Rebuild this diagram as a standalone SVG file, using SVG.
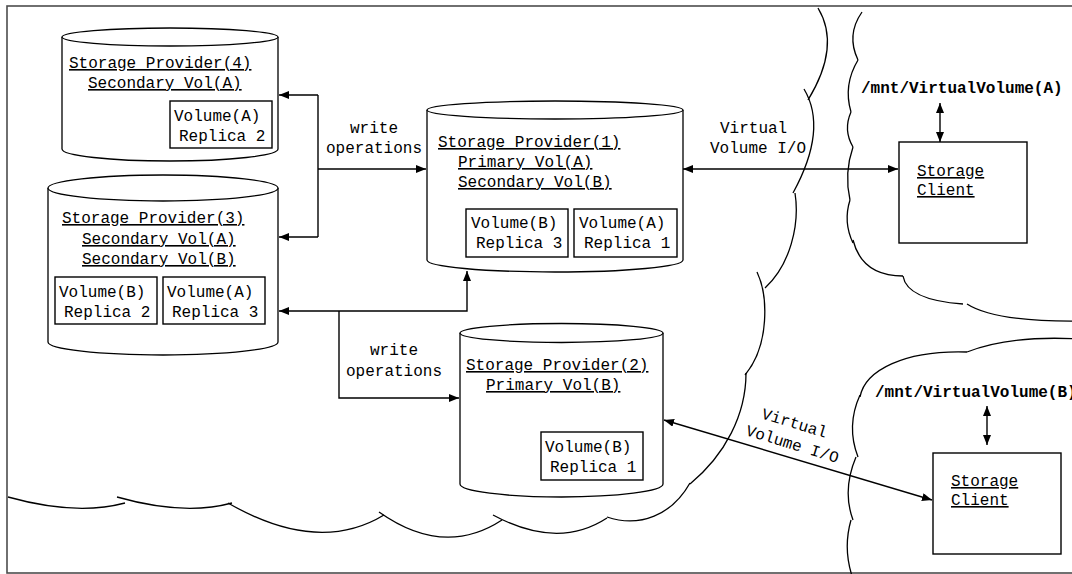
<svg xmlns="http://www.w3.org/2000/svg" width="1072" height="574" viewBox="0 0 1072 574">
<style>
text{font-family:"Liberation Mono","Courier New",monospace;font-size:16px;fill:#000}
.u{text-decoration:underline}
.b{font-weight:bold}
.m{text-anchor:middle}
.cyl{fill:#fff;stroke:#000;stroke-width:1.3}
.box{fill:#fff;stroke:#000;stroke-width:1.4}
.cl{fill:none;stroke:#000;stroke-width:1.3}
.c{fill:none;stroke:#000;stroke-width:1.4;marker-end:url(#ah)}
.d{fill:none;stroke:#000;stroke-width:1.4;marker-start:url(#ah);marker-end:url(#ah)}
.l{fill:none;stroke:#000;stroke-width:1.4}
</style>
<defs>
<marker id="ah" markerUnits="userSpaceOnUse" markerWidth="11" markerHeight="9" refX="10" refY="4" orient="auto-start-reverse" viewBox="0 0 11 9">
<path d="M0,0 L10,4 L0,8 z" fill="#000"/>
</marker>
</defs>
<rect x="7" y="6" width="1090" height="567" fill="#fff" stroke="#4d4d4d" stroke-width="1.6"/>

<g id="cloud-providers">
<path class="cl" d="M818,8 Q841,46 808,100"/>
<path class="cl" d="M804,89 Q828,129 793,193"/>
<path class="cl" d="M795,193 C800,225 790,265 765,288"/>
<path class="cl" d="M757,272 C768,295 770,345 745,375"/>
<path class="cl" d="M746,373 C746,415 725,455 690,484"/>
<path class="cl" d="M690,483 C672,515 640,528 607,517"/>
<path class="cl" d="M493,515 Q558,550 607,518"/>
<path class="cl" d="M379,512 Q444,558 502,520"/>
<path class="cl" d="M228,503 Q318,555 384,515"/>
<path class="cl" d="M117,497 Q184,516 232,503"/>
<path class="cl" d="M8,497 Q76,516 125,503"/>
</g>
<g id="cloud-client-a">
<path class="cl" d="M862,12 Q846,35 858,60"/>
<path class="cl" d="M858,60 Q843,85 851,112"/>
<path class="cl" d="M851,112 Q843,130 853,147"/>
<path class="cl" d="M853,147 Q844,173 850,200"/>
<path class="cl" d="M850,200 Q843,222 853,243"/>
<path class="cl" d="M853,240 Q862,276 903,276"/>
<path class="cl" d="M903,276 Q907,300 963,304"/>
<path class="cl" d="M967,304 Q995,322 1080,321"/>
</g>
<g id="cloud-client-b">
<path class="cl" d="M860,397 C865,370 905,350 967,352"/>
<path class="cl" d="M967,352 Q1010,335 1080,339"/>
<path class="cl" d="M860,395 Q846,426 858,457"/>
<path class="cl" d="M856,457 Q842,490 853,520"/>
<path class="cl" d="M851,520 Q843,548 852,576"/>
</g>

<g id="sp4">
<path class="cyl" d="M62,37 V149 A108,12 0 0 0 278,149 V37"/>
<ellipse class="cyl" cx="170" cy="37" rx="108" ry="9"/>
<text class="u" x="69" y="68">Storage Provider(4)</text>
<text class="u" x="88" y="88">Secondary Vol(A)</text>
<rect class="box" x="170" y="101" width="102" height="47"/>
<text x="174" y="121">Volume(A)</text>
<text x="179" y="141">Replica 2</text>
</g>

<g id="sp3">
<path class="cyl" d="M48,188 V342 A115,13 0 0 0 278,342 V188"/>
<ellipse class="cyl" cx="163" cy="188" rx="115" ry="13"/>
<text class="u" x="62" y="223">Storage Provider(3)</text>
<text class="u" x="82" y="244">Secondary Vol(A)</text>
<text class="u" x="82" y="264">Secondary Vol(B)</text>
<rect class="box" x="55" y="277" width="102" height="47"/>
<text x="59" y="297">Volume(B)</text>
<text x="64" y="317">Replica 2</text>
<rect class="box" x="163" y="277" width="102" height="47"/>
<text x="167" y="297">Volume(A)</text>
<text x="172" y="317">Replica 3</text>
</g>

<g id="sp1">
<path class="cyl" d="M427,110 V260 A128,12 0 0 0 683,260 V110"/>
<ellipse class="cyl" cx="555" cy="110" rx="128" ry="9"/>
<text class="u" x="438" y="147">Storage Provider(1)</text>
<text class="u" x="458" y="167">Primary Vol(A)</text>
<text class="u" x="458" y="187">Secondary Vol(B)</text>
<rect class="box" x="466" y="209" width="102" height="48"/>
<text x="471" y="228">Volume(B)</text>
<text x="476" y="248">Replica 3</text>
<rect class="box" x="574" y="209" width="103" height="48"/>
<text x="579" y="228">Volume(A)</text>
<text x="584" y="248">Replica 1</text>
</g>

<g id="sp2">
<path class="cyl" d="M460,333 V484 A101.5,13 0 0 0 663,484 V333"/>
<ellipse class="cyl" cx="561.5" cy="333" rx="101.5" ry="9.5"/>
<text class="u" x="466" y="370">Storage Provider(2)</text>
<text class="u" x="486" y="390">Primary Vol(B)</text>
<rect class="box" x="541" y="432" width="102" height="48"/>
<text x="545" y="452">Volume(B)</text>
<text x="550" y="472">Replica 1</text>
</g>

<g id="client-a">
<rect class="box" x="899" y="142" width="128" height="101"/>
<text class="u" x="917" y="176">Storage</text>
<text class="u" x="917" y="195">Client</text>
<text class="b" x="861" y="93">/mnt/VirtualVolume(A)</text>
</g>

<g id="client-b">
<rect class="box" x="933" y="453" width="128" height="101"/>
<text class="u" x="951" y="486">Storage</text>
<text class="u" x="951" y="505">Client</text>
<text class="b" x="875" y="397">/mnt/VirtualVolume(B)</text>
</g>

<g id="connectors">
<path class="l" d="M318,95 V237"/>
<path class="c" d="M318,95 H279"/>
<path class="c" d="M318,237 H279"/>
<path class="c" d="M318,169 H426"/>
<path class="d" d="M279,311 H467 V271"/>
<path class="c" d="M339,311 V398 H459"/>
<path class="d" d="M683,169 H898"/>
<path class="d" d="M940,103 V142"/>
<path class="d" d="M664,420 L932,500"/>
<path class="d" d="M987,406 V445"/>
<text class="m" x="374" y="133">write</text>
<text class="m" x="374" y="153">operations</text>
<text class="m" x="394" y="355">write</text>
<text class="m" x="394" y="376">operations</text>
<text x="720" y="133">Virtual</text>
<text x="710" y="153">Volume I/O</text>
<text class="m" transform="translate(793,428) rotate(17)">Virtual</text>
<text class="m" transform="translate(791,449) rotate(17)">Volume I/O</text>
</g>
</svg>
